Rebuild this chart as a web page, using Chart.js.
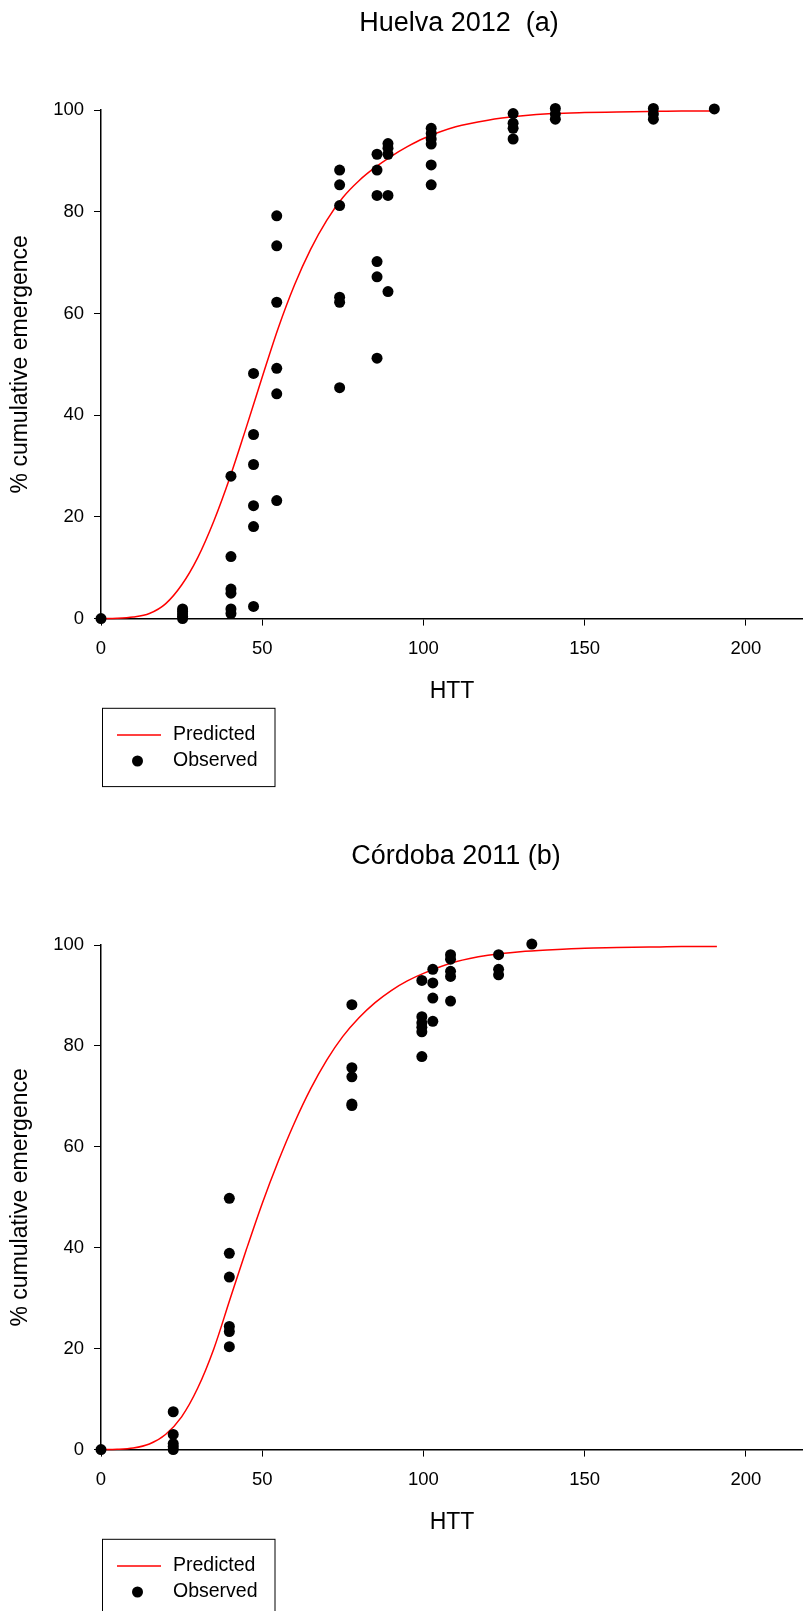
<!DOCTYPE html>
<html>
<head>
<meta charset="utf-8">
<script src="https://cdn.jsdelivr.net/npm/chart.js@4.4.1/dist/chart.umd.min.js"></script>
<style>
  body { margin: 0; background: #fff; overflow: hidden; }
  canvas { position: absolute; left: 0; }
</style>
</head>
<body>
<canvas id="chartA" width="803" height="805" style="top:0"></canvas>
<canvas id="chartB" width="803" height="806" style="top:805px"></canvas>
<script>
// ==================== DATA ====================

const xTicks = [0, 50, 100, 150, 200];
const yTicks = [0, 20, 40, 60, 80, 100];

// Huelva 2012 (a) - observed, grouped by HTT
const huelvaObsHTT = [0, 25.3, 40.3, 47.3, 54.5, 74, 85.6, 89, 102.4, 127.8, 140.9, 171.3, 190.2];
const huelvaObsPct = [
    [0],
    [0, 0.4, 0.9, 1.4, 1.9],
    [28, 12.2, 5.8, 5, 1.9, 1],
    [48.2, 36.2, 30.3, 22.2, 18.1, 2.4],
    [79.2, 73.3, 62.2, 49.2, 44.2, 23.2],
    [88.2, 85.3, 81.2, 63.2, 62.2, 45.4],
    [91.3, 88.2, 83.2, 70.2, 67.2, 51.2],
    [93.4, 92.5, 91.3, 83.2, 64.3],
    [96.4, 95.4, 94.3, 93.3, 89.2, 85.3],
    [99.3, 97.4, 96.4, 94.3],
    [100.3, 99.2, 98.2],
    [100.3, 99.2, 98.2],
    [100.2]
];
// Huelva 2012 (a) - predicted curve
const huelvaPredHTT = [0, 5, 10, 15, 20, 25, 30, 35, 40, 45, 50, 55, 60, 65, 70, 75, 80, 85, 90, 95, 100, 110, 120, 130, 140, 150, 160, 170, 180, 190];
const huelvaPredPct = [0, 0.05, 0.3, 1.0, 2.9, 6.6, 12.0, 19.2, 27.8, 37.5, 47.5, 57.2, 65.6, 72.6, 78.3, 82.8, 86.1, 88.7, 90.9, 92.8, 94.4, 96.7, 98.0, 98.8, 99.3, 99.5, 99.6, 99.7, 99.8, 99.8];

// Córdoba 2011 (b) - observed, grouped by HTT
const cordobaObsHTT = [0, 22.4, 39.8, 77.8, 99.5, 102.9, 108.4, 123.3, 133.6];
const cordobaObsPct = [
    [0],
    [7.5, 3.0, 1.2, 0.6, 0],
    [49.8, 38.9, 34.2, 24.4, 23.4, 20.4],
    [88.2, 75.7, 73.9, 68.5, 68.2],
    [93, 85.8, 84.6, 83.7, 82.8, 77.9],
    [95.2, 92.5, 89.5, 84.9],
    [98.1, 97.2, 94.8, 93.8, 88.9],
    [98.1, 95.2, 94.1],
    [100.2]
];
// Córdoba 2011 (b) - predicted curve
const cordobaPredHTT = [0, 5, 10, 15, 20, 25, 30, 35, 40, 45, 50, 55, 60, 65, 70, 75, 80, 85, 90, 95, 100, 110, 120, 130, 140, 150, 160, 170, 180, 191];
const cordobaPredPct = [0, 0.05, 0.3, 1.1, 3.0, 6.5, 12.2, 20.0, 29.8, 39.5, 48.8, 57.2, 64.8, 71.5, 77.2, 81.9, 85.6, 88.6, 91.0, 92.9, 94.4, 96.7, 98.0, 98.7, 99.1, 99.4, 99.5, 99.6, 99.7, 99.7];

// ==================== CHARTS ====================

const FONT = '"Liberation Sans", Arial, sans-serif';
Chart.defaults.font.family = FONT;
Chart.defaults.color = '#000';

function toObsPoints(htt, pct) {
    const pts = [];
    htt.forEach((x, i) => pct[i].forEach(y => pts.push({ x: x, y: y })));
    return pts;
}

function toLinePoints(htt, pct) {
    return htt.map((x, i) => ({ x: x, y: pct[i] }));
}

// title + boxed legend drawn on the canvas
const panelDecor = {
    id: 'panelDecor',
    afterDraw(chart, args, opts) {
        const ctx = chart.ctx;
        const base = chart.chartArea.bottom;
        ctx.save();
        ctx.fillStyle = '#000';
        ctx.textBaseline = 'middle';
        ctx.textAlign = 'center';
        ctx.font = '27px ' + FONT;
        ctx.fillText(opts.title, opts.titleX, opts.titleY);

        // legend box
        const bx = 102.5, by = base + 89.7;
        ctx.strokeStyle = '#000';
        ctx.lineWidth = 1;
        ctx.strokeRect(bx, by, 172.5, 78.3);

        ctx.strokeStyle = '#ff0000';
        ctx.lineWidth = 1.5;
        ctx.beginPath();
        ctx.moveTo(117, base + 116.4);
        ctx.lineTo(161, base + 116.4);
        ctx.stroke();

        ctx.fillStyle = '#000';
        ctx.beginPath();
        ctx.arc(137.5, base + 142.4, 5.5, 0, Math.PI * 2);
        ctx.fill();

        ctx.textAlign = 'left';
        ctx.font = '19.5px ' + FONT;
        ctx.fillText('Predicted', 173, base + 116.4);
        ctx.fillText('Observed', 173, base + 142.4);
        ctx.restore();
    }
};

function makeChart(canvasId, obsHTT, obsPct, predHTT, predPct, decor, padTop, padBottom) {
    const ctx = document.getElementById(canvasId).getContext('2d');
    return new Chart(ctx, {
        type: 'scatter',
        data: {
            datasets: [{
                label: 'Observed',
                data: toObsPoints(obsHTT, obsPct),
                backgroundColor: '#000',
                borderWidth: 0,
                pointRadius: 5.5,
                pointHoverRadius: 5.5,
                clip: false
            }, {
                label: 'Predicted',
                data: toLinePoints(predHTT, predPct),
                showLine: true,
                borderColor: '#ff0000',
                borderWidth: 1.5,
                pointRadius: 0,
                cubicInterpolationMode: 'monotone',
                clip: false
            }]
        },
        options: {
            responsive: false,
            animation: false,
            devicePixelRatio: 1,
            layout: {
                autoPadding: false,
                padding: { top: padTop, bottom: padBottom, left: 3, right: 0 }
            },
            plugins: {
                legend: { display: false },
                tooltip: { enabled: false },
                panelDecor: decor
            },
            scales: {
                x: {
                    type: 'linear',
                    min: 0,
                    max: 217.7,
                    afterBuildTicks: s => { s.ticks = xTicks.map(v => ({ value: v })); },
                    afterFit: s => { s.height = 91; },
                    border: { color: '#000', width: 1.5 },
                    grid: { drawOnChartArea: false, drawTicks: true, tickLength: 7, color: '#000', lineWidth: 1 },
                    ticks: { font: { size: 18.5 }, color: '#000', padding: 12, maxRotation: 0 },
                    title: { display: true, text: 'HTT', font: { size: 23 }, color: '#000', padding: { top: 4, bottom: 4 } }
                },
                y: {
                    type: 'linear',
                    min: 0,
                    max: 100,
                    afterBuildTicks: s => { s.ticks = yTicks.map(v => ({ value: v })); },
                    afterFit: s => { s.width = 98; },
                    border: { color: '#000', width: 1.5 },
                    grid: { drawOnChartArea: false, drawTicks: true, tickLength: 7, color: '#000', lineWidth: 1 },
                    ticks: { font: { size: 18.5 }, color: '#000', padding: 10 },
                    title: { display: true, text: '% cumulative emergence', font: { size: 23 }, color: '#000', padding: { top: 4, bottom: 4 } }
                }
            }
        },
        plugins: [panelDecor]
    });
}

makeChart('chartA', huelvaObsHTT, huelvaObsPct, huelvaPredHTT, huelvaPredPct,
    { title: 'Huelva 2012  (a)', titleX: 459, titleY: 23.5 }, 110, 95.4);

makeChart('chartB', cordobaObsHTT, cordobaObsPct, cordobaPredHTT, cordobaPredPct,
    { title: 'Córdoba 2011 (b)', titleX: 456, titleY: 51.7 }, 140.1, 70.4);
</script>
</body>
</html>
